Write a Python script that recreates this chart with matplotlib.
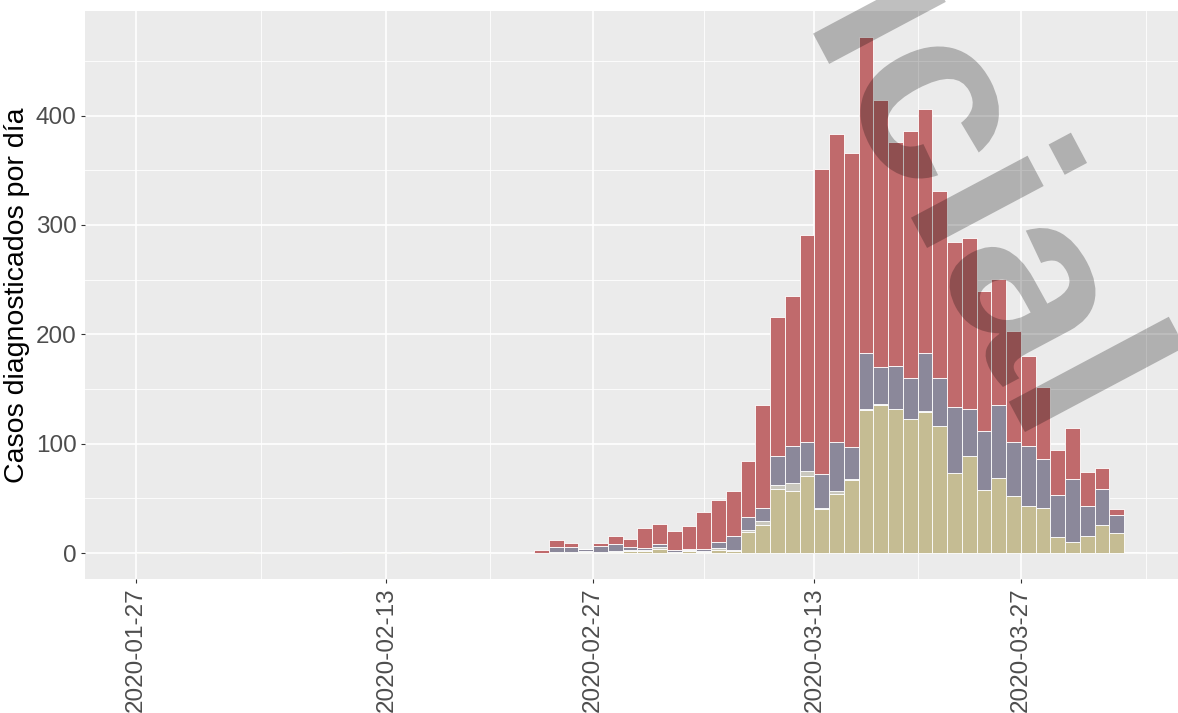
import matplotlib.pyplot as plt
import matplotlib.dates as mdates
import numpy as np
from matplotlib.textpath import TextPath
from matplotlib.patches import PathPatch
from matplotlib.font_manager import FontProperties
from matplotlib.transforms import Affine2D

plt.rcParams['font.family'] = ['Liberation Sans', 'DejaVu Sans']

# dias con casos (fecha de diagnostico)
fechas = np.array([
    '2020-01-27', '2020-01-30', '2020-01-31', '2020-02-03',
    '2020-02-10', '2020-02-11', '2020-02-12', '2020-02-14', '2020-02-15',
    '2020-02-18', '2020-02-19',
    '2020-02-23', '2020-02-24', '2020-02-25', '2020-02-26', '2020-02-27',
    '2020-02-28', '2020-02-29', '2020-03-01', '2020-03-02', '2020-03-03',
    '2020-03-04', '2020-03-05', '2020-03-06', '2020-03-07', '2020-03-08',
    '2020-03-09', '2020-03-10', '2020-03-11', '2020-03-12', '2020-03-13',
    '2020-03-14', '2020-03-15', '2020-03-16', '2020-03-17', '2020-03-18',
    '2020-03-19', '2020-03-20', '2020-03-21', '2020-03-22', '2020-03-23',
    '2020-03-24', '2020-03-25', '2020-03-26', '2020-03-27', '2020-03-28',
    '2020-03-29', '2020-03-30', '2020-03-31', '2020-04-01', '2020-04-02',
    '2020-04-03',
], dtype='datetime64[D]')

# series apiladas (de abajo a arriba)
grupo_a = [1, 1, 1, 1, 1, 1, 1, 1, 1, 1, 1,
           0, 1, 1, 1, 1, 1, 2, 2, 4, 1, 2, 1, 3, 2, 19, 26, 59, 57, 71,
           40, 54, 67, 131, 135, 132, 123, 129, 116, 73, 89, 58, 69, 52, 43,
           41, 15, 10, 16, 26, 18, 0]
grupo_b = [0, 0, 0, 0, 0, 0, 0, 0, 0, 0, 0,
           0, 0, 0, 1, 0, 1, 1, 1, 2, 0, 1, 1, 2, 1, 2, 3, 3, 7, 4,
           1, 3, 1, 1, 1, 0, 0, 1, 0, 0, 0, 0, 0, 0, 0,
           0, 0, 0, 0, 0, 0, 1]
grupo_c = [0, 0, 0, 0, 0, 0, 0, 0, 0, 0, 0,
           0, 5, 5, 2, 6, 6, 3, 2, 2, 2, 1, 2, 5, 13, 12, 12, 27, 34, 27,
           31, 45, 29, 51, 34, 39, 37, 53, 44, 61, 43, 54, 66, 50, 55,
           45, 38, 58, 27, 33, 17, 0]
grupo_d = [0, 0, 0, 0, 0, 0, 0, 0, 0, 0, 0,
           3, 6, 3, 0, 2, 8, 7, 18, 19, 17, 21, 34, 39, 41, 51, 94, 127, 137, 189,
           279, 281, 269, 289, 244, 205, 226, 223, 171, 150, 156, 128, 116, 101, 82,
           66, 41, 46, 31, 19, 5, 0]

etiquetas = ['2020-01-27', '2020-02-13', '2020-02-27', '2020-03-13', '2020-03-27']

colores = ['#C5BC93', '#C9C7BD', '#8B889A', '#C06A6C']

fig = plt.figure(figsize=(11.78, 7.13), dpi=100)
ax = fig.add_axes([85 / 1178, 1 - 579 / 713, 1 - 85 / 1178, (579 - 11) / 713])
ax.set_facecolor('#EBEBEB')

x = mdates.date2num(fechas)
base = np.zeros(len(x))
for serie, col in zip([grupo_a, grupo_b, grupo_c, grupo_d], colores):
    serie = np.array(serie, dtype=float)
    ax.bar(x, serie, width=1, bottom=base, align='edge', color=col,
           edgecolor='white', linewidth=0.6, zorder=3)
    base = base + serie

mayores = mdates.date2num(np.array(etiquetas, dtype='datetime64[D]'))
menores = list((mayores[:-1] + mayores[1:]) / 2) + [mayores[-1] + 8.5]
ax.set_xticks(mayores)
ax.set_xticklabels(etiquetas, rotation=90)
ax.set_xticks(menores, minor=True)
ax.set_xlim(mayores[0] - 3.44, mayores[0] + 70.66)

ax.set_ylim(-23.6, 495.6)
ax.set_yticks([0, 100, 200, 300, 400])
ax.set_yticks([50, 150, 250, 350, 450], minor=True)

ax.grid(which='major', color='white', linewidth=1.2, zorder=0)
ax.grid(which='minor', color='white', linewidth=0.6, zorder=0)
ax.set_axisbelow(True)
for s in ax.spines.values():
    s.set_visible(False)
ax.tick_params(which='major', length=3, width=0.8, color='#333333',
               labelsize=17.5, labelcolor='#4D4D4D', pad=3)
ax.tick_params(which='minor', length=0)

ax.set_ylabel('Casos diagnosticados por día', fontsize=20.5, color='black', labelpad=4)

# marca de agua (en pixeles)
tp = TextPath((0, 0), 'Oficial', size=250,
              prop=FontProperties(family='Liberation Sans', weight='bold'))
tr = Affine2D().rotate_deg(-62).translate(674.5, 713 + 227)
fig.add_artist(PathPatch(tp, transform=tr, facecolor='black', edgecolor='none',
                         alpha=0.25, zorder=10))

fig.savefig('out.png', dpi=100)
